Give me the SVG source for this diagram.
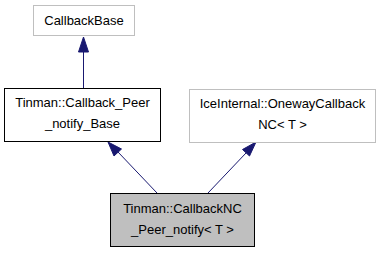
<svg xmlns="http://www.w3.org/2000/svg" width="381" height="253" viewBox="0 0 381 253">
<style>
  text { font-family: "Liberation Sans", Arial, sans-serif; font-size: 13px; text-anchor: middle; fill: #000; }
  .box { fill: #fff; stroke: #000; stroke-width: 1; }
  .ext { fill: #fff; stroke: #bfbfbf; stroke-width: 1; }
  .cur { fill: #bfbfbf; stroke: #000; stroke-width: 1; }
  .edge { stroke: #191970; stroke-width: 1; fill: none; }
  .head { fill: #191970; stroke: #191970; stroke-width: 1; }
</style>
<rect width="381" height="253" fill="#fff"/>
<g id="edges">
  <path class="edge" d="M83.5,88 L83.5,51"/>
  <polygon class="head" points="78.5,52 83.5,37 88.5,52"/>
  <path class="edge" d="M157,193 L118,152"/>
  <polygon class="head" points="114,156 108,142 121.5,149"/>
  <path class="edge" d="M208,193 L246,153"/>
  <polygon class="head" points="242.5,149.5 256,142 249.5,156"/>
</g>
<g id="node_callbackbase">
  <rect class="ext" x="33.5" y="5.5" width="101" height="30"/>
  <text x="84" y="24.5">CallbackBase</text>
</g>
<g id="node_callback_peer_notify_base">
  <rect class="box" x="4.5" y="88.5" width="156" height="53"/>
  <text x="82.5" y="106.5">Tinman::Callback_Peer</text>
  <text x="82.5" y="127.5">_notify_Base</text>
</g>
<g id="node_oneway_callback_nc">
  <rect class="ext" x="189.5" y="89.5" width="186" height="53"/>
  <text x="282.5" y="107.5">IceInternal::OnewayCallback</text>
  <text x="282.5" y="128.5">NC&lt; T &gt;</text>
</g>
<g id="node_callbacknc_peer_notify">
  <rect class="cur" x="110.5" y="193.5" width="144" height="53"/>
  <text x="182.5" y="212.5">Tinman::CallbackNC</text>
  <text x="182.5" y="233.5">_Peer_notify&lt; T &gt;</text>
</g>
</svg>
